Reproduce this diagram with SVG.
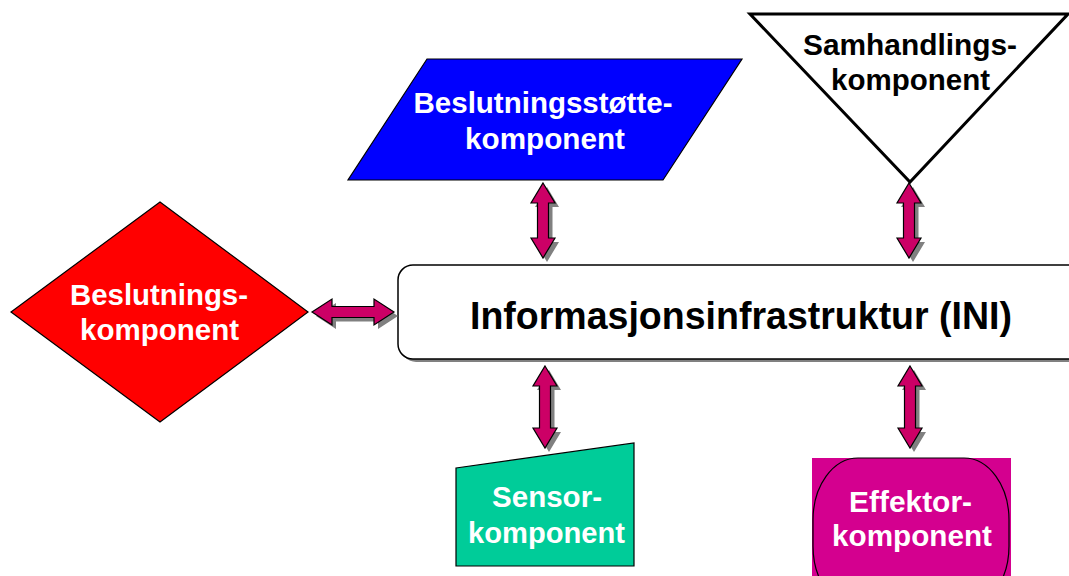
<svg xmlns="http://www.w3.org/2000/svg" xmlns:xlink="http://www.w3.org/1999/xlink" width="1069" height="576" viewBox="0 0 1069 576">
  <style>
    .lbl { font-family: "Liberation Sans", Arial, sans-serif; font-weight: bold; font-size: 30px; text-anchor: middle; }
    .title { font-size: 39px; }
    .white { fill: #FFFFFF; }
    .black { fill: #000000; }
    .edge { stroke: #000000; stroke-width: 1.2; }
    .arrow { fill: #CC0066; stroke: #000000; stroke-width: 1.2; stroke-linejoin: miter; }
    .shadow { fill: #808080; stroke: none; }
  </style>
  <defs>
    <!-- double-headed block arrows -->
    <path id="arrowLeft" d="M312,312 L332,299 L332,306.5 L374,306.5 L374,299 L394,312 L374,325 L374,317.5 L332,317.5 L332,325 Z"/>
    <path id="arrowTopA" d="M543,183 L555,203 L548.5,203 L548.5,238 L555,238 L543,258 L531,238 L537.5,238 L537.5,203 L531,203 Z"/>
    <path id="arrowTopB" d="M909,183 L921,203 L914.5,203 L914.5,238 L921,238 L909,258 L897,238 L903.5,238 L903.5,203 L897,203 Z"/>
    <path id="arrowBotA" d="M545,366 L557,386 L550.5,386 L550.5,428 L557,428 L545,448 L533,428 L539.5,428 L539.5,386 L533,386 Z"/>
    <path id="arrowBotB" d="M910,366 L922,386 L915.5,386 L915.5,428 L922,428 L910,448 L898,428 L904.5,428 L904.5,386 L898,386 Z"/>
  </defs>

  <rect width="1069" height="576" fill="#FFFFFF"/>

  <!-- central information infrastructure -->
  <g id="ini">
    <rect x="401" y="268" width="700" height="94" rx="15" ry="15" fill="#808080"/>
    <rect x="398" y="265" width="700" height="94" rx="15" ry="15" fill="#FFFFFF" stroke="#000000" stroke-width="1.5"/>
    <text class="lbl title black" x="741" y="329" textLength="542" lengthAdjust="spacingAndGlyphs">Informasjonsinfrastruktur (INI)</text>
  </g>

  <g id="beslutning">
    <polygon class="edge" points="160,202 308,312 160,422 11,312" fill="#FF0000"/>
    <text class="lbl white" x="159" y="305" textLength="178" lengthAdjust="spacingAndGlyphs">Beslutnings-</text>
    <text class="lbl white" x="159.5" y="340" textLength="159" lengthAdjust="spacingAndGlyphs">komponent</text>
  </g>

  <g id="beslutningsstotte">
    <polygon class="edge" points="427,59 742,59 663,180 348,180" fill="#0000FF"/>
    <text class="lbl white" x="543" y="113" textLength="259" lengthAdjust="spacingAndGlyphs">Beslutningsstøtte-</text>
    <text class="lbl white" x="545" y="149" textLength="160" lengthAdjust="spacingAndGlyphs">komponent</text>
  </g>

  <g id="samhandling">
    <polygon points="750,14 1068,14 910,182" fill="#FFFFFF" stroke="#000000" stroke-width="3" stroke-linejoin="miter"/>
    <text class="lbl black" x="910" y="55" textLength="214" lengthAdjust="spacingAndGlyphs">Samhandlings-</text>
    <text class="lbl black" x="910.5" y="90" textLength="159" lengthAdjust="spacingAndGlyphs">komponent</text>
  </g>

  <g id="sensor">
    <polygon class="edge" points="456,468 634,443 634,566 456,566" fill="#00CC99"/>
    <text class="lbl white" x="547" y="507" textLength="110" lengthAdjust="spacingAndGlyphs">Sensor-</text>
    <text class="lbl white" x="546.5" y="543" textLength="157" lengthAdjust="spacingAndGlyphs">komponent</text>
  </g>

  <g id="effektor">
    <rect x="812" y="458" width="199" height="130" fill="#D4008F"/>
    <rect x="813" y="458" width="196" height="150" rx="45" ry="62" fill="none" stroke="#000000" stroke-width="1.2"/>
    <text class="lbl white" x="910.5" y="512" textLength="123" lengthAdjust="spacingAndGlyphs">Effektor-</text>
    <text class="lbl white" x="912" y="546" textLength="160" lengthAdjust="spacingAndGlyphs">komponent</text>
  </g>

  <!-- connectors: shadow copy offset below each arrow -->
  <g id="connectors">
    <use xlink:href="#arrowLeft" class="shadow" transform="translate(4,4)"/>
    <use xlink:href="#arrowLeft" class="arrow"/>
    <use xlink:href="#arrowTopA" class="shadow" transform="translate(4,4)"/>
    <use xlink:href="#arrowTopA" class="arrow"/>
    <use xlink:href="#arrowTopB" class="shadow" transform="translate(4,4)"/>
    <use xlink:href="#arrowTopB" class="arrow"/>
    <use xlink:href="#arrowBotA" class="shadow" transform="translate(4,4)"/>
    <use xlink:href="#arrowBotA" class="arrow"/>
    <use xlink:href="#arrowBotB" class="shadow" transform="translate(4,4)"/>
    <use xlink:href="#arrowBotB" class="arrow"/>
  </g>
</svg>
